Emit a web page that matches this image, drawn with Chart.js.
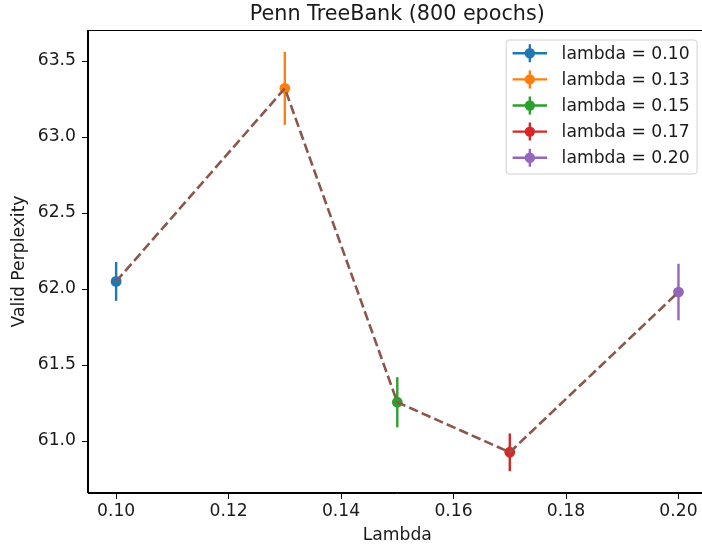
<!DOCTYPE html>
<html>
<head>
<meta charset="utf-8">
<script src="https://cdn.jsdelivr.net/npm/chart.js@4.4.0/dist/chart.umd.min.js"></script>
<style>
  html, body { margin: 0; padding: 0; background: #fff; overflow: hidden; }
  #wrap { width: 712px; height: 547px; }
</style>
</head>
<body>
<div id="wrap"><canvas id="chart" width="712" height="547"></canvas></div>
<script>
// values
let lambdas = [0.10, 0.13, 0.15, 0.17, 0.20];
let perplexity = [62.05, 63.32, 61.255, 60.926, 61.98];
let errors = [0.128, 0.24, 0.165, 0.124, 0.186];
let seriesLabels = ['lambda = 0.10', 'lambda = 0.13', 'lambda = 0.15', 'lambda = 0.17', 'lambda = 0.20'];
let xTicks = [0.10, 0.12, 0.14, 0.16, 0.18, 0.20];
let yTicks = [61.0, 61.5, 62.0, 62.5, 63.0, 63.5];

let colors = ['#1f77b4', '#ff7f0e', '#2ca02c', '#d62728', '#9467bd'];
let fontFamily = '"DejaVu Sans", sans-serif';
let textColor = '#1a1a1a';
let fontSize = 17.2;

// vertical error bars, drawn under the markers
let errorBars = {
    id: 'errorBars',
    beforeDatasetsDraw(chart) {
        let ctx = chart.ctx;
        let xs = chart.scales.x, ys = chart.scales.y;
        ctx.save();
        ctx.lineWidth = 2.4;
        lambdas.forEach(function (l, i) {
            let px = xs.getPixelForValue(l);
            ctx.strokeStyle = colors[i];
            ctx.beginPath();
            ctx.moveTo(px, ys.getPixelForValue(perplexity[i] - errors[i]));
            ctx.lineTo(px, ys.getPixelForValue(perplexity[i] + errors[i]));
            ctx.stroke();
        });
        ctx.restore();
    }
};

// frame, title and matplotlib-like legend
let decorations = {
    id: 'decorations',
    afterDraw(chart) {
        let ctx = chart.ctx;
        let area = chart.chartArea;
        ctx.save();

        // spines
        ctx.strokeStyle = '#000';
        ctx.lineWidth = 1;
        ctx.strokeRect(Math.round(area.left) - 0.5, Math.round(area.top) + 0.5,
            Math.round(area.right - area.left), Math.round(area.bottom - area.top) - 1);

        // title
        ctx.fillStyle = textColor;
        ctx.font = '20.7px ' + fontFamily;
        ctx.textAlign = 'center';
        ctx.textBaseline = 'middle';
        ctx.fillText('Penn TreeBank (800 epochs)', (area.left + area.right) / 2, area.top - 15.5);

        // legend box
        let bx = area.right - 200.5, by = area.top + 10, bw = 191, bh = 134, r = 3;
        ctx.beginPath();
        ctx.moveTo(bx + r, by);
        ctx.lineTo(bx + bw - r, by);
        ctx.arcTo(bx + bw, by, bx + bw, by + r, r);
        ctx.lineTo(bx + bw, by + bh - r);
        ctx.arcTo(bx + bw, by + bh, bx + bw - r, by + bh, r);
        ctx.lineTo(bx + r, by + bh);
        ctx.arcTo(bx, by + bh, bx, by + bh - r, r);
        ctx.lineTo(bx, by + r);
        ctx.arcTo(bx, by, bx + r, by, r);
        ctx.closePath();
        ctx.fillStyle = 'rgba(255,255,255,0.8)';
        ctx.fill();
        ctx.strokeStyle = '#d0d0d0';
        ctx.lineWidth = 1;
        ctx.stroke();

        ctx.font = fontSize + 'px ' + fontFamily;
        ctx.textAlign = 'left';
        seriesLabels.forEach(function (label, i) {
            let cy = by + 13.3 + i * 26.1;
            let hx0 = bx + 6.5, hx1 = bx + 41, hc = (hx0 + hx1) / 2;
            ctx.strokeStyle = colors[i];
            ctx.lineWidth = 2.4;
            ctx.beginPath();
            ctx.moveTo(hx0, cy);
            ctx.lineTo(hx1, cy);
            ctx.moveTo(hc, cy - 9);
            ctx.lineTo(hc, cy + 9);
            ctx.stroke();
            ctx.fillStyle = colors[i];
            ctx.beginPath();
            ctx.arc(hc, cy, 5.2, 0, Math.PI * 2);
            ctx.fill();
            ctx.fillStyle = textColor;
            ctx.fillText(label, bx + 55.5, cy + 1);
        });
        ctx.restore();
    }
};

let datasets = [{
    label: 'trend',
    data: lambdas.map(function (x, i) { return {x: x, y: perplexity[i]}; }),
    showLine: true,
    borderColor: '#8c564b',
    borderWidth: 2.6,
    borderDash: [9.6, 4.1],
    pointRadius: 0,
    fill: false,
    tension: 0,
    order: 0
}];
lambdas.forEach(function (x, i) {
    datasets.push({
        label: seriesLabels[i],
        data: [{x: x, y: perplexity[i]}],
        backgroundColor: colors[i],
        borderColor: colors[i],
        pointRadius: 5.4,
        pointBorderWidth: 0,
        order: 1
    });
});

let tickFont = {family: fontFamily, size: fontSize};

new Chart(document.getElementById('chart'), {
    type: 'scatter',
    data: {datasets: datasets},
    options: {
        responsive: false,
        animation: false,
        layout: {padding: {left: 0, right: 4.5, top: 30, bottom: 0}},
        plugins: {
            legend: {display: false},
            tooltip: {enabled: false},
            title: {display: false}
        },
        scales: {
            x: {
                type: 'linear',
                min: 0.095,
                max: 0.205,
                afterBuildTicks: function (s) { s.ticks = xTicks.map(function (v) { return {value: v}; }); },
                afterFit: function (s) { s.height = 54; },
                grid: {drawOnChartArea: false, tickLength: 6, tickColor: '#000', tickWidth: 1},
                border: {color: '#000', width: 1},
                ticks: {
                    padding: 2, color: textColor, font: tickFont, maxRotation: 0, autoSkip: false,
                    callback: function (v) { return v.toFixed(2); }
                },
                title: {display: true, text: 'Lambda', color: textColor, font: tickFont, padding: {top: 0, bottom: 1}}
            },
            y: {
                type: 'linear',
                min: 60.658,
                max: 63.704,
                afterBuildTicks: function (s) { s.ticks = yTicks.map(function (v) { return {value: v}; }); },
                afterFit: function (s) { s.width = 88; },
                grid: {drawOnChartArea: false, tickLength: 6, tickColor: '#000', tickWidth: 1},
                border: {color: '#000', width: 1},
                ticks: {
                    padding: 6, color: textColor, font: tickFont, autoSkip: false,
                    callback: function (v) { return v.toFixed(1); }
                },
                title: {display: true, text: 'Valid Perplexity', color: textColor, font: tickFont, padding: {top: 9.5, bottom: 0}}
            }
        }
    },
    plugins: [errorBars, decorations]
});
</script>
</body>
</html>
